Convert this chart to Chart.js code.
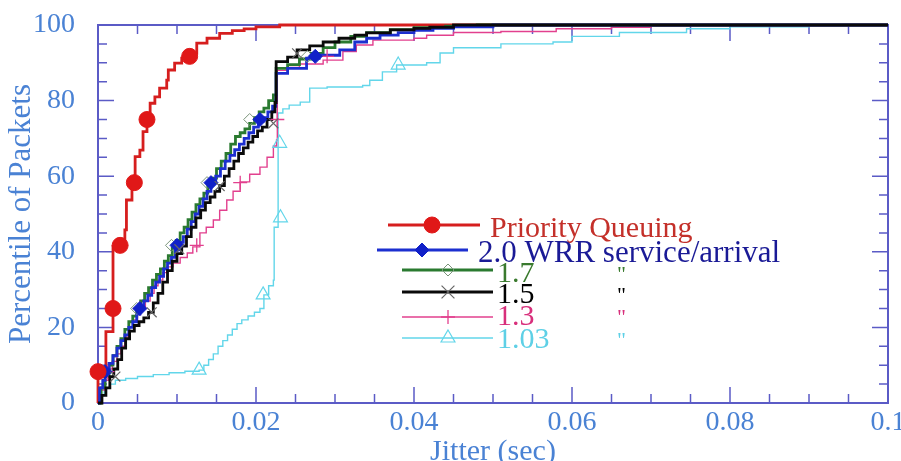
<!DOCTYPE html>
<html><head><meta charset="utf-8">
<script src="https://cdn.jsdelivr.net/npm/chart.js@4/dist/chart.umd.min.js"></script>
<style>html,body{margin:0;padding:0;background:#fff;}canvas{display:block;}</style>
</head><body>
<canvas id="c" width="901" height="461"></canvas>
<script>
// ---------------- DATA ----------------
const seriesNames = ['Priority Queuing', '2.0 WRR service/arrival', '1.7', '1.5', '1.3', '1.03'];
const xTickValues = [0, 0.02, 0.04, 0.06, 0.08, 0.1];
const xTickLabels = ['0', '0.02', '0.04', '0.06', '0.08', '0.1'];
const yTickValues = [0, 20, 40, 60, 80, 100];
const yTickLabels = ['0', '20', '40', '60', '80', '100'];

// Priority Queuing
const pqX = [0, 0, 0.0010, 0.0019, 0.0034, 0.0036, 0.0043, 0.0047, 0.0053, 0.0057, 0.0062, 0.0066, 0.0072, 0.0078, 0.0087, 0.0089, 0.0097, 0.0106, 0.0116, 0.0125, 0.0138, 0.0154, 0.0170, 0.0185, 0.0200, 0.0230, 0.1];
const pqY = [0, 8, 18.9, 41.4, 45.8, 53.7, 57.7, 65.2, 66.9, 71.8, 74.9, 79.3, 81, 83.3, 85.4, 88.1, 89.9, 91.2, 92.5, 95.2, 96.5, 97.8, 98.5, 99, 99.5, 100, 100];
const pqMarkX = [0, 0.0019, 0.0028, 0.0046, 0.0062, 0.0116];
const pqMarkY = [8.3, 25, 41.7, 58.3, 75, 91.7];

// 2.0 WRR
const w20X = [0, 0.0002, 0.0006, 0.0009, 0.0014, 0.0019, 0.0024, 0.0029, 0.0034, 0.0039, 0.0044, 0.0049, 0.0053, 0.0058, 0.0063, 0.0068, 0.0073, 0.0078, 0.0083, 0.0088, 0.0093, 0.0098, 0.0103, 0.0108, 0.0113, 0.0118, 0.0123, 0.0128, 0.0133, 0.0138, 0.0143, 0.0149, 0.0155, 0.0161, 0.0167, 0.0173, 0.0179, 0.0185, 0.0191, 0.0197, 0.0203, 0.0209, 0.0215, 0.0221, 0.0225, 0.02255, 0.0240, 0.0264, 0.0280, 0.0306, 0.0325, 0.0340, 0.0357, 0.0380, 0.0400, 0.0424, 0.0450, 0.0500, 0.1];
const w20Y = [0, 4, 6, 8.3, 10.5, 12.5, 14.5, 16.5, 18, 20, 21.5, 23.5, 25, 27, 28.5, 30.5, 32, 33.5, 35.5, 37, 38.5, 40.5, 42.5, 44, 46, 48, 50, 52, 54, 56, 58.3, 60, 62, 64, 65.5, 67, 68.5, 70, 71.5, 73, 74.5, 75.5, 77, 78.5, 80, 87.2, 88.5, 91.2, 92, 93.4, 95.5, 96.5, 97.3, 98, 98.6, 99.1, 99.5, 100, 100];
const w20MarkX = [0.0009, 0.0053, 0.0100, 0.0143, 0.0205, 0.0275];
const w20MarkY = [8.3, 25, 41.7, 58.3, 75, 91.7];

// 1.7
const w17X = [0, 0.0004, 0.0009, 0.0014, 0.0019, 0.0024, 0.0029, 0.0034, 0.0039, 0.0044, 0.0049, 0.0054, 0.0059, 0.0064, 0.0069, 0.0074, 0.0079, 0.0084, 0.0089, 0.0094, 0.0099, 0.0104, 0.0109, 0.0114, 0.0119, 0.0124, 0.0129, 0.0134, 0.0139, 0.0144, 0.0150, 0.0156, 0.0162, 0.0168, 0.0174, 0.0180, 0.0186, 0.0192, 0.0198, 0.0204, 0.0210, 0.0216, 0.0222, 0.02255, 0.0240, 0.0255, 0.0270, 0.0285, 0.0300, 0.0320, 0.0340, 0.0370, 0.0400, 0.0440, 0.0480, 0.1];
const w17Y = [0, 4, 7, 10, 12.5, 15, 17, 19.5, 21.5, 23, 25, 27, 29, 30.5, 32.5, 34, 35.5, 37.5, 39, 41, 43, 45, 46.5, 48.5, 50.5, 52.5, 54, 55.5, 57.5, 59.5, 62, 64, 66, 68.5, 70.5, 71.5, 72.5, 74, 75.5, 77, 78, 80, 81.5, 88.5, 89.5, 91, 92.5, 94, 95.5, 97, 98, 98.8, 99.3, 99.7, 100, 100];
const w17MarkX = [0.0008, 0.0049, 0.0093, 0.0138, 0.0192, 0.0265];
const w17MarkY = [8.3, 25, 41.7, 58.3, 75, 91.7];

// 1.5
const w15X = [0, 0.0005, 0.0010, 0.0015, 0.0020, 0.0025, 0.0030, 0.0035, 0.0040, 0.0046, 0.0052, 0.0058, 0.0064, 0.0070, 0.0076, 0.0082, 0.0088, 0.0094, 0.0100, 0.0106, 0.0112, 0.0118, 0.0124, 0.0130, 0.0136, 0.0142, 0.0148, 0.0154, 0.0160, 0.0166, 0.0172, 0.0178, 0.0184, 0.0190, 0.0196, 0.0202, 0.0208, 0.0214, 0.0220, 0.0224, 0.02255, 0.0240, 0.0252, 0.0268, 0.0285, 0.0305, 0.0325, 0.0340, 0.0370, 0.0400, 0.0420, 0.0450, 0.1];
const w15Y = [0, 2, 4, 7, 9, 11.5, 14.5, 17, 19, 20.5, 21.5, 22.5, 24, 26.5, 29, 32, 35, 37.5, 39.5, 41.5, 44, 46.5, 49, 51, 53, 54.5, 56, 57.5, 60, 62, 64, 66, 67.5, 69, 70.5, 72, 73, 75, 77, 79.5, 90.3, 91.5, 93.4, 94.5, 95.5, 96.5, 97.3, 97.9, 98.7, 99.1, 99.4, 100, 100];
const w15MarkX = [0.0022, 0.0068, 0.0103, 0.0154, 0.0222, 0.0252];
const w15MarkY = [7, 24, 40.7, 57.4, 74, 92.5];

// 1.3
const w13X = [0, 0.0003, 0.0008, 0.0013, 0.0018, 0.0024, 0.0029, 0.0034, 0.0039, 0.0044, 0.0050, 0.0055, 0.0060, 0.0066, 0.0071, 0.0076, 0.0082, 0.0087, 0.0095, 0.0104, 0.0113, 0.0120, 0.0129, 0.0137, 0.0146, 0.0154, 0.0163, 0.0171, 0.0180, 0.0192, 0.0205, 0.0214, 0.0222, 0.0226, 0.0227, 0.0240, 0.0255, 0.0285, 0.0310, 0.0327, 0.0348, 0.0400, 0.0416, 0.0450, 0.0510, 0.0580, 0.0650, 0.0700, 0.1];
const w13Y = [0, 3.4, 6, 9, 11, 13, 15, 17.5, 20, 22, 24, 25.5, 27, 29, 31, 32.5, 34.5, 36, 37, 38.5, 39.7, 41.3, 45, 46.5, 48.4, 51, 53.7, 56, 58.5, 60.5, 62.4, 65, 68, 69.6, 88, 88.8, 89.7, 90.7, 93, 94.7, 96, 96.5, 97.3, 98, 98.3, 99, 99.4, 100, 100];
const w13MarkX = [0.0012, 0.0053, 0.0125, 0.0180, 0.0227, 0.0290];
const w13MarkY = [8.3, 25, 41.7, 58.3, 75, 91.7];

// 1.03
const w103X = [0, 0.0003, 0.0008, 0.0015, 0.0022, 0.0035, 0.0050, 0.0070, 0.0090, 0.0110, 0.0128, 0.0134, 0.0140, 0.0146, 0.0152, 0.0158, 0.0164, 0.0170, 0.0176, 0.0182, 0.0190, 0.0198, 0.0205, 0.0210, 0.0216, 0.0222, 0.0223, 0.0228, 0.0234, 0.0242, 0.0256, 0.0268, 0.0290, 0.0335, 0.0344, 0.0360, 0.0378, 0.0416, 0.0433, 0.0450, 0.0510, 0.0576, 0.0600, 0.0660, 0.0745, 0.0800, 0.0900, 0.1];
const w103Y = [0, 2, 4, 5, 6, 6.5, 7, 7.5, 8, 8.4, 8.7, 10, 11.5, 13, 15, 16.5, 18, 19.5, 21, 22, 23, 24, 25, 28.6, 31, 32.5, 46.5, 76.7, 77.8, 78.8, 79.6, 83.3, 83.6, 84, 85.4, 87.6, 89.4, 90, 92.6, 94, 95, 95.5, 97, 98, 99, 99.5, 100, 100];
const w103MarkX = [0.0128, 0.0209, 0.0231, 0.0230, 0.0380];
const w103MarkY = [8.7, 28.6, 49, 68.7, 89.4];

// ---------------- STYLES ----------------
const FONT = "'Liberation Serif', 'Times New Roman', serif";
const AXIS_BLUE = '#4a82d4';
const FRAME = '#5b5bc6';

const styles = [
  {line:'#d61e1e', lw:2.8, text:'#c4302a', ps:'circle', pr:8, pbg:'#e01818', pbc:'#e01818', pbw:1},
  {line:'#1c2fd0', lw:2.8, text:'#1a1a96', ps:'rectRot', pr:7, pbg:'#1020c8', pbc:'#1020c8', pbw:1},
  {line:'#2a7a30', lw:2.8, text:'#3a7a2e', ps:'rectRot', pr:6, pbg:'rgba(0,0,0,0)', pbc:'#7a947a', pbw:1},
  {line:'#0a0a0a', lw:2.8, text:'#000000', ps:'crossRot', pr:7, pbg:'rgba(0,0,0,0)', pbc:'#666666', pbw:1.2},
  {line:'#e2408e', lw:1.4, text:'#d8307c', ps:'cross', pr:7, pbg:'rgba(0,0,0,0)', pbc:'#e2408e', pbw:1.3},
  {line:'#62d6ea', lw:1.4, text:'#5ed0e6', ps:'triangle', pr:8, pbg:'rgba(0,0,0,0)', pbc:'#62d6ea', pbw:1.2}
];

const lineX = [pqX, w20X, w17X, w15X, w13X, w103X];
const lineY = [pqY, w20Y, w17Y, w15Y, w13Y, w103Y];
const markX = [pqMarkX, w20MarkX, w17MarkX, w15MarkX, w13MarkX, w103MarkX];
const markY = [pqMarkY, w20MarkY, w17MarkY, w15MarkY, w13MarkY, w103MarkY];

const pts = (xs, ys) => xs.map((x, i) => ({x: x, y: ys[i]}));

// draw order: first dataset on top
const markOrder = [0, 3, 1, 2, 4, 5];
const lineOrder = [3, 1, 2, 4, 0, 5];
const datasets = [];
markOrder.forEach(i => {
  const s = styles[i];
  datasets.push({
    label: seriesNames[i] + ' markers', data: pts(markX[i], markY[i]), showLine: false,
    pointStyle: s.ps, pointRadius: s.pr, pointBackgroundColor: s.pbg, pointBorderColor: s.pbc,
    pointBorderWidth: s.pbw, clip: false
  });
});
lineOrder.forEach(i => {
  const s = styles[i];
  datasets.push({
    label: seriesNames[i], data: pts(lineX[i], lineY[i]), showLine: true, stepped: true,
    borderColor: s.line, borderWidth: s.lw, pointRadius: 0, fill: false, tension: 0, clip: false
  });
});

// ---------------- PLUGINS ----------------
const framePlugin = {
  id: 'frame',
  beforeDatasetsDraw(chart) {
    const {ctx, chartArea: a, scales: {x, y}} = chart;
    ctx.save();
    ctx.strokeStyle = FRAME;
    ctx.lineWidth = 2;
    ctx.strokeRect(a.left, a.top, a.right - a.left, a.bottom - a.top);
    ctx.lineWidth = 1.5;
    ctx.beginPath();
    for (let k = 0; k <= 20; k++) {
      const px = x.getPixelForValue(k * 0.005);
      const len = (k % 4 === 0) ? 16 : 9;
      ctx.moveTo(px, a.bottom); ctx.lineTo(px, a.bottom - len);
      ctx.moveTo(px, a.top); ctx.lineTo(px, a.top + len);
    }
    for (let k = 0; k <= 20; k++) {
      const py = y.getPixelForValue(k * 5);
      const len = (k % 4 === 0) ? 16 : 9;
      ctx.moveTo(a.left, py); ctx.lineTo(a.left + len, py);
      ctx.moveTo(a.right, py); ctx.lineTo(a.right - len, py);
    }
    ctx.stroke();
    ctx.restore();
  }
};

function drawMarker(ctx, s, x, y) {
  ctx.save();
  ctx.fillStyle = s.pbg; ctx.strokeStyle = s.pbc; ctx.lineWidth = s.pbw;
  const r = s.pr;
  ctx.beginPath();
  if (s.ps === 'circle') {
    ctx.arc(x, y, r, 0, Math.PI * 2); ctx.fill(); ctx.stroke();
  } else if (s.ps === 'rectRot') {
    ctx.moveTo(x, y - r); ctx.lineTo(x + r, y); ctx.lineTo(x, y + r); ctx.lineTo(x - r, y); ctx.closePath();
    ctx.fill(); ctx.stroke();
  } else if (s.ps === 'crossRot') {
    const d = r * Math.SQRT1_2 * 1.3;
    ctx.moveTo(x - d, y - d); ctx.lineTo(x + d, y + d); ctx.moveTo(x + d, y - d); ctx.lineTo(x - d, y + d); ctx.stroke();
  } else if (s.ps === 'cross') {
    ctx.moveTo(x, y - r); ctx.lineTo(x, y + r); ctx.moveTo(x - r, y); ctx.lineTo(x + r, y); ctx.stroke();
  } else if (s.ps === 'triangle') {
    ctx.moveTo(x, y - r); ctx.lineTo(x + r * 0.87, y + r * 0.5); ctx.lineTo(x - r * 0.87, y + r * 0.5); ctx.closePath(); ctx.stroke();
  }
  ctx.restore();
}

const legendRows = [
  {x1: 388, x2: 480, y: 225, mx: 432, tx: 490, ty: 237, size: 30, quote: false},
  {x1: 377, x2: 468, y: 250, mx: 422, tx: 478, ty: 262, size: 31, quote: false},
  {x1: 402, x2: 493, y: 270, mx: 448, tx: 497, ty: 282, size: 30, quote: true},
  {x1: 402, x2: 493, y: 292, mx: 448, tx: 497, ty: 303, size: 30, quote: true},
  {x1: 402, x2: 493, y: 317, mx: 448, tx: 497, ty: 325, size: 30, quote: true},
  {x1: 402, x2: 493, y: 338, mx: 448, tx: 497, ty: 348, size: 30, quote: true}
];

const legendPlugin = {
  id: 'customLegend',
  afterDraw(chart) {
    const ctx = chart.ctx;
    legendRows.forEach((r, i) => {
      const s = styles[i];
      ctx.save();
      ctx.strokeStyle = s.line; ctx.lineWidth = s.lw;
      ctx.beginPath(); ctx.moveTo(r.x1, r.y); ctx.lineTo(r.x2, r.y); ctx.stroke();
      ctx.restore();
      drawMarker(ctx, s, r.mx, r.y);
      ctx.save();
      ctx.fillStyle = s.text;
      ctx.font = r.size + 'px ' + FONT;
      ctx.textBaseline = 'alphabetic';
      ctx.textAlign = 'left';
      ctx.fillText(seriesNames[i], r.tx, r.ty);
      if (r.quote) {
        ctx.font = '22px ' + FONT;
        ctx.fillText('"', 617, r.ty - 1);
      }
      ctx.restore();
    });
  }
};

// ---------------- CHART ----------------
new Chart(document.getElementById('c'), {
  type: 'scatter',
  data: {datasets: datasets},
  options: {
    responsive: false,
    animation: false,
    events: [],
    layout: {padding: {top: 25, right: 13, left: 0, bottom: 0}},
    plugins: {legend: {display: false}, tooltip: {enabled: false}, title: {display: false}},
    scales: {
      x: {
        type: 'linear', min: 0, max: 0.1,
        grid: {display: false, drawTicks: false},
        border: {display: false},
        afterBuildTicks: s => { s.ticks = xTickValues.map(v => ({value: v})); },
        ticks: {
          padding: 3, color: AXIS_BLUE, maxRotation: 0, autoSkip: false,
          font: {family: FONT, size: 28},
          callback: (v, i) => xTickLabels[i]
        },
        title: {display: true, text: 'Jitter (sec)', color: AXIS_BLUE,
          font: {family: FONT, size: 30, lineHeight: 1}, padding: {top: 0, bottom: -6}},
        afterFit: s => { s.height = 58; s.paddingLeft = 0; s.paddingRight = 0; }
      },
      y: {
        type: 'linear', min: 0, max: 100,
        grid: {display: false, drawTicks: false},
        border: {display: false},
        afterBuildTicks: s => { s.ticks = yTickValues.map(v => ({value: v})); },
        ticks: {
          padding: 23, color: AXIS_BLUE, autoSkip: false,
          font: {family: FONT, size: 28},
          callback: (v, i) => yTickLabels[i]
        },
        title: {display: true, text: 'Percentile of Packets', color: AXIS_BLUE,
          font: {family: FONT, size: 31, lineHeight: 1}, padding: {top: 6, bottom: 0}},
        afterFit: s => { s.width = 98; s.paddingTop = 0; s.paddingBottom = 0; }
      }
    }
  },
  plugins: [framePlugin, legendPlugin]
});
</script>
</body></html>
